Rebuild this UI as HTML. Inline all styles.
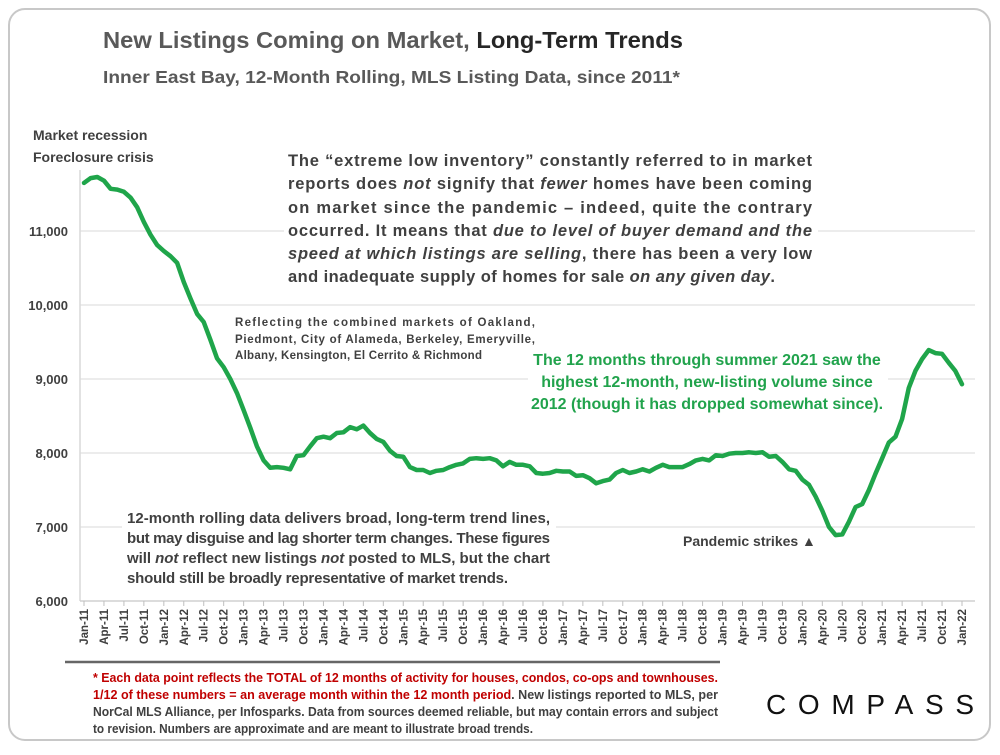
<!DOCTYPE html>
<html><head><meta charset="utf-8"><style>
body{margin:0;background:#fff;font-family:"Liberation Sans",sans-serif}
svg text{font-family:"Liberation Sans",sans-serif}
</style></head><body>
<svg id="chart" width="1000" height="750" viewBox="0 0 1000 750" xmlns="http://www.w3.org/2000/svg">
<rect x="9" y="9" width="981" height="731" rx="16" fill="#fff" stroke="#c8c8c8" stroke-width="2"/>
<text x="103" y="48" font-size="23" font-weight="bold" fill="#595959" textLength="580" lengthAdjust="spacingAndGlyphs">New Listings Coming on Market, <tspan fill="#262626">Long-Term Trends</tspan></text>
<text x="103" y="83" font-size="17.5" font-weight="bold" fill="#595959" textLength="577" lengthAdjust="spacingAndGlyphs">Inner East Bay, 12-Month Rolling, MLS Listing Data, since 2011*</text>
<g id="grid"></g>
<g id="yaxis"></g>
<g id="xaxis"></g>
<path id="line" fill="none" stroke="#1fa54a" stroke-width="4.5" stroke-linejoin="round" stroke-linecap="round"/>

<text font-size="14" font-weight="bold" fill="#404040"><tspan x="33" y="140">Market recession</tspan><tspan x="33" y="162">Foreclosure crisis</tspan></text>

<g font-size="16.5" font-weight="bold" fill="#404040">
<rect x="284" y="144" width="534" height="146" fill="#fff"/>
<text x="288" y="166" textLength="524" lengthAdjust="spacing">The “extreme low inventory” constantly referred to in market</text>
<text x="288" y="189" textLength="524" lengthAdjust="spacing">reports does <tspan font-style="italic">not</tspan> signify that <tspan font-style="italic">fewer</tspan> homes have been coming</text>
<text x="288" y="213" textLength="524" lengthAdjust="spacing">on market since the pandemic – indeed, quite the contrary</text>
<text x="288" y="236" textLength="524" lengthAdjust="spacing">occurred. It means that <tspan font-style="italic">due to level of buyer demand and the</tspan></text>
<text x="288" y="259" textLength="524" lengthAdjust="spacing"><tspan font-style="italic">speed at which listings are selling</tspan>, there has been a very low</text>
<text x="288" y="282" textLength="487" lengthAdjust="spacing">and inadequate supply of homes for sale <tspan font-style="italic">on any given day</tspan>.</text>
</g>

<g font-size="11.5" font-weight="bold" fill="#404040">
<text x="235" y="326" textLength="300" lengthAdjust="spacing">Reflecting the combined markets of Oakland,</text>
<text x="235" y="343" textLength="300" lengthAdjust="spacing">Piedmont, City of Alameda, Berkeley, Emeryville,</text>
<text x="235" y="359" textLength="247" lengthAdjust="spacing">Albany, Kensington, El Cerrito &amp; Richmond</text>
</g>

<g font-size="16" font-weight="bold" fill="#21a34c" text-anchor="middle">
<rect x="528" y="345" width="360" height="70" fill="#fff"/>
<text x="707" y="365">The 12 months through summer 2021 saw the</text>
<text x="707" y="387">highest 12-month, new-listing volume since</text>
<text x="707" y="409">2012 (though it has dropped somewhat since).</text>
</g>

<g font-size="15" font-weight="bold" fill="#404040">
<rect x="122" y="502" width="434" height="84" fill="#fff"/>
<text x="127" y="523" textLength="423" lengthAdjust="spacing">12-month rolling data delivers broad, long-term trend lines,</text>
<text x="127" y="543" textLength="423" lengthAdjust="spacing">but may disguise and lag shorter term changes. These figures</text>
<text x="127" y="563" textLength="423" lengthAdjust="spacing">will <tspan font-style="italic">not</tspan> reflect new listings <tspan font-style="italic">not</tspan> posted to MLS, but the chart</text>
<text x="127" y="583" textLength="381" lengthAdjust="spacing">should still be broadly representative of market trends.</text>
</g>

<text x="683" y="546" font-size="14" font-weight="bold" fill="#404040">Pandemic strikes ▲</text>

<line x1="65" y1="662" x2="720" y2="662" stroke="#666" stroke-width="2.5"/>
<g font-size="12.5" font-weight="bold" fill="#404040">
<text x="93" y="682" textLength="625" lengthAdjust="spacingAndGlyphs"><tspan fill="#c00000">* Each data point reflects the TOTAL of 12 months of activity for houses, condos, co-ops and townhouses.</tspan></text>
<text x="93" y="699" textLength="625" lengthAdjust="spacingAndGlyphs"><tspan fill="#c00000">1/12 of these numbers = an average month within the 12 month period</tspan>. New listings reported to MLS, per</text>
<text x="93" y="716" textLength="625" lengthAdjust="spacingAndGlyphs">NorCal MLS Alliance, per Infosparks. Data from sources deemed reliable, but may contain errors and subject</text>
<text x="93" y="733" textLength="440" lengthAdjust="spacingAndGlyphs">to revision. Numbers are approximate and are meant to illustrate broad trends.</text>
</g>
<text x="766" y="714" font-size="28" fill="#111" textLength="208" lengthAdjust="spacing">COMPASS</text>
</svg>
<script>
const startYear = 2011;
const values = [11650,11715,11730,11680,11570,11560,11530,11450,11320,11120,10950,10810,
10730,10660,10570,10310,10090,9880,9770,9530,9280,9160,9000,8810,
8580,8340,8090,7900,7800,7810,7800,7780,7960,7970,8090,8200,
8220,8200,8270,8280,8350,8320,8370,8270,8190,8150,8030,7960,
7950,7810,7770,7770,7730,7760,7770,7810,7840,7860,7920,7930,
7920,7930,7900,7820,7880,7840,7840,7820,7730,7720,7730,7760,
7750,7750,7690,7700,7660,7590,7620,7640,7730,7770,7730,7750,
7780,7750,7800,7840,7810,7810,7810,7850,7900,7920,7900,7970,
7960,7990,8000,8000,8010,8000,8010,7950,7960,7880,7780,7760,
7640,7570,7410,7220,7000,6890,6900,7070,7270,7310,7500,7720,
7930,8140,8220,8460,8880,9110,9270,9390,9350,9340,9220,9110,
8930];
const yTicks = [6000,7000,8000,9000,10000,11000];
const monthNames = ["Jan","Apr","Jul","Oct"];
const NS="http://www.w3.org/2000/svg";
const X0=84,X1=962,Y0=601,PXK=0.074,PLOTR=975;
function xs(i){return X0+(X1-X0)*i/(values.length-1);}
function ys(v){return Y0-(v-6000)*PXK;}
function mk(tag,attrs,parent){const e=document.createElementNS(NS,tag);for(const k in attrs)e.setAttribute(k,attrs[k]);parent.appendChild(e);return e;}
const grid=document.getElementById('grid'),ya=document.getElementById('yaxis'),xa=document.getElementById('xaxis');
yTicks.forEach(t=>{
  if(t>6000){const g=mk('line',{x1:X0-4,x2:PLOTR,y1:ys(t),y2:ys(t),stroke:'#e6e6e6','stroke-width':1.5},grid);
  
  }
  const tx=mk('text',{x:68,y:ys(t)+5,'text-anchor':'end','font-size':13,'font-weight':'bold',fill:'#404040'},ya);
  tx.textContent=t.toLocaleString('en-US');
  
  
});
mk('line',{x1:X0-4,x2:X0-4,y1:170,y2:Y0,stroke:'#d9d9d9','stroke-width':1.5},ya);
mk('line',{x1:X0-4,x2:PLOTR,y1:Y0,y2:Y0,stroke:'#d0d0d0','stroke-width':1.5},xa);
for(let i=0;i<values.length;i+=3){
  const x=xs(i);
  mk('line',{x1:x,x2:x,y1:Y0,y2:Y0+5,stroke:'#bfbfbf','stroke-width':1},xa);
  const yr=String((startYear+Math.floor(i/12))%100).padStart(2,'0');
  const lbl=monthNames[(i%12)/3]+'-'+yr;
  const tx=mk('text',{x:0,y:0,'text-anchor':'end','font-size':11.5,'font-weight':'bold',fill:'#404040',transform:`translate(${x+4},${Y0+8}) rotate(-90)`},xa);
  tx.textContent=lbl;
  
  
}
document.getElementById('line').setAttribute('d',values.map((v,i)=>(i?'L':'M')+xs(i).toFixed(1)+','+ys(v).toFixed(1)).join(''));
</script>
</body></html>
